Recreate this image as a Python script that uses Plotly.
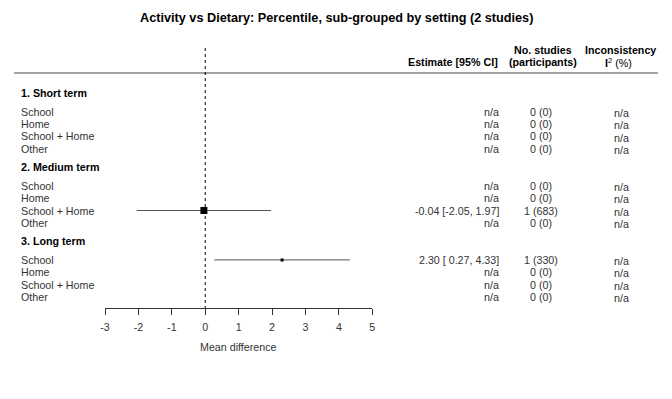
import plotly.graph_objects as go

# ---------------- data ----------------
groups = ["1. Short term", "2. Medium term", "3. Long term"]
settings = ["School", "Home", "School + Home", "Other"]
# estimates (mean difference) per group x setting; None = n/a
estimate = [[None, None, None, None],
            [None, None, -0.04, None],
            [2.30, None, None, None]]
ci_low = [[None, None, None, None],
          [None, None, -2.05, None],
          [0.27, None, None, None]]
ci_high = [[None, None, None, None],
           [None, None, 1.97, None],
           [4.33, None, None, None]]
n_studies = [[0, 0, 0, 0], [0, 0, 1, 0], [1, 0, 0, 0]]
participants = [[0, 0, 0, 0], [0, 0, 683, 0], [330, 0, 0, 0]]
tick_vals = [-3, -2, -1, 0, 1, 2, 3, 4, 5]
tick_text = ["-3", "-2", "-1", "0", "1", "2", "3", "4", "5"]
title = "Activity vs Dietary: Percentile, sub-grouped by setting (2 studies)"
x_label = "Mean difference"

# ---------------- layout helpers ----------------
W, H = 672, 399
FONT = "Liberation Sans, Arial, sans-serif"
TXT = "#333333"
ROW0_PX = 111.7   # pixel y of first item row
ROW_PX = 12.35    # pixel height of one row


def py(p):  # pixel y -> paper y
    return 1 - p / H


def pxx(p):  # pixel x -> paper x
    return p / W


def row_of(g, i=None):
    return 6 * g - 1.5 if i is None else 6 * g + i


fig = go.Figure()

# CI lines + point estimates
for g in range(len(groups)):
    for i in range(len(settings)):
        e = estimate[g][i]
        if e is None:
            continue
        r = row_of(g, i)
        fig.add_trace(go.Scatter(
            x=[ci_low[g][i], ci_high[g][i]], y=[r, r], mode="lines",
            line=dict(color="#555555", width=1), showlegend=False, hoverinfo="skip"))
        fig.add_trace(go.Scatter(
            x=[e], y=[r], mode="markers",
            marker=dict(symbol="square", size=7 if g == 1 else 3, color="black"),
            showlegend=False))

ann = []
# title
ann.append(dict(text="<b>%s</b>" % title, x=pxx(336), y=py(18), xref="paper", yref="paper",
                showarrow=False, xanchor="center", yanchor="middle",
                font=dict(size=12.7, color="black", family=FONT)))
# column headers
hdr = dict(xref="paper", yref="paper", showarrow=False, yanchor="middle",
           font=dict(size=10.7, color="black", family=FONT))
ann.append(dict(hdr, text="<b>Estimate [95% CI]</b>", x=pxx(500), y=py(62), xanchor="right"))
ann.append(dict(hdr, text="<b>No. studies</b>", x=pxx(543), y=py(50), xanchor="center"))
ann.append(dict(hdr, text="<b>(participants)</b>", x=pxx(543), y=py(62), xanchor="center"))
ann.append(dict(hdr, text="<b>Inconsistency</b>", x=pxx(620), y=py(50), xanchor="center"))
ann.append(dict(hdr, text="<b>I</b><sup>2</sup> (%)", x=pxx(618), y=py(62), xanchor="center"))

base = dict(xref="paper", yref="y", showarrow=False, yanchor="middle",
            font=dict(size=10.7, color=TXT, family=FONT))
for g, gname in enumerate(groups):
    ann.append(dict(base, text="<b>%s</b>" % gname, x=pxx(19), y=row_of(g), xanchor="left",
                    font=dict(size=10.7, color="black", family=FONT)))
    for i, sname in enumerate(settings):
        r = row_of(g, i)
        ann.append(dict(base, text=sname, x=pxx(19), y=r, xanchor="left"))
        e = estimate[g][i]
        if e is None:
            est_txt = "n/a"
        else:
            est_txt = "%.2f [%5.2f, %.2f]" % (e, ci_low[g][i], ci_high[g][i])
        ann.append(dict(base, text=est_txt, x=pxx(501), y=r, xanchor="right"))
        ann.append(dict(base, text="%d (%d)" % (n_studies[g][i], participants[g][i]),
                        x=pxx(541), y=r, xanchor="center"))
        ann.append(dict(base, text="n/a", x=pxx(621), y=r + 0.1, xanchor="center"))

ann.append(dict(text=x_label, x=pxx(238.5), y=py(347), xref="paper", yref="paper",
                showarrow=False, xanchor="center", yanchor="middle",
                font=dict(size=10.7, color=TXT, family=FONT)))

shapes = [
    dict(type="line", xref="paper", yref="paper", x0=pxx(14), x1=pxx(658),
         y0=py(73), y1=py(73), line=dict(color="#444444", width=1)),
    dict(type="line", xref="x", yref="paper", x0=0, x1=0, y0=py(48), y1=py(308),
         line=dict(color="black", width=1, dash="dot")),
]

fig.update_layout(
    width=W, height=H, margin=dict(l=0, r=0, t=0, b=0, autoexpand=False),
    paper_bgcolor="white", plot_bgcolor="rgba(0,0,0,0)",
    annotations=ann, shapes=shapes,
    xaxis=dict(domain=[pxx(105), pxx(372.3)], range=[tick_vals[0], tick_vals[-1]],
               anchor="free", position=py(308), tickvals=tick_vals, ticktext=tick_text,
               ticks="outside", ticklen=6, tickcolor="#333333", tickwidth=1,
               ticklabelstandoff=3,
               showline=True, linecolor="#333333", linewidth=1, showgrid=False,
               zeroline=False, automargin=False,
               tickfont=dict(size=10.7, color=TXT, family=FONT)),
    yaxis=dict(domain=[0, 1], range=[(H - ROW0_PX) / ROW_PX, -ROW0_PX / ROW_PX],
               visible=False, anchor="free", position=0, automargin=False),
    font=dict(family=FONT),
)

fig.write_html("out.html", config={"responsive": False, "displayModeBar": False},
               post_script="document.body.style.margin='0px';")
